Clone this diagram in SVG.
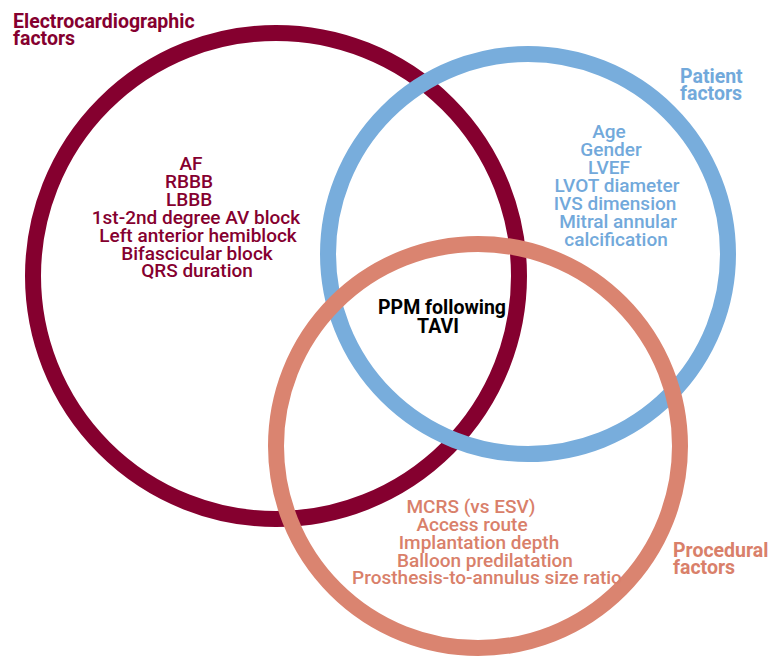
<svg xmlns="http://www.w3.org/2000/svg" width="771" height="658" viewBox="0 0 771 658">
<style>
.ring{fill:none;stroke-width:16}
.t{font-family:Roboto,"Liberation Sans",Arial,sans-serif;font-size:19px;font-weight:500;text-anchor:middle}
.h{font-family:Roboto,"Liberation Sans",Arial,sans-serif;font-size:19.5px;font-weight:700}
.red{fill:#85002f}
.blue{fill:#72a9db}
.sal{fill:#d9806a}
</style>
<rect width="771" height="658" fill="#ffffff"/>
<g id="ecg-circle"><circle class="ring" cx="276" cy="276" r="243" stroke="#85002f"/></g>
<g id="patient-circle"><circle class="ring" cx="528" cy="254" r="200" stroke="#78addc"/></g>
<g id="procedural-circle"><circle class="ring" cx="478" cy="446" r="202" stroke="#da8470"/></g>
<g id="ecg-label" class="h red">
<text x="13" y="28">Electrocardiographic</text>
<text x="13" y="45">factors</text>
</g>
<g id="patient-label" class="h blue">
<text x="680" y="83">Patient</text>
<text x="680" y="100">factors</text>
</g>
<g id="procedural-label" class="h sal">
<text x="673" y="557">Procedural</text>
<text x="673" y="574">factors</text>
</g>
<g id="ecg-factors" class="t red">
<text x="191" y="170">AF</text>
<text x="189" y="188">RBBB</text>
<text x="189" y="206">LBBB</text>
<text x="196" y="224">1st-2nd degree AV block</text>
<text x="198" y="242">Left anterior hemiblock</text>
<text x="197" y="260">Bifascicular block</text>
<text x="197" y="277">QRS duration</text>
</g>
<g id="patient-factors" class="t blue">
<text x="609" y="138">Age</text>
<text x="611" y="156">Gender</text>
<text x="609" y="174">LVEF</text>
<text x="617" y="192">LVOT diameter</text>
<text x="615" y="210">IVS dimension</text>
<text x="618" y="228">Mitral annular</text>
<text x="616" y="246">calcification</text>
</g>
<g id="center">
<text class="h" x="442" y="314" text-anchor="middle" fill="#000">PPM following</text>
<text class="h" x="438" y="333" text-anchor="middle" fill="#000">TAVI</text>
</g>
<g id="procedural-factors" class="t sal">
<text x="471" y="513">MCRS (vs ESV)</text>
<text x="472" y="531">Access route</text>
<text x="479" y="549">Implantation depth</text>
<text x="485" y="567">Balloon predilatation</text>
<text x="487" y="584">Prosthesis-to-annulus size ratio</text>
</g>
<g id="connectors"/>
</svg>
